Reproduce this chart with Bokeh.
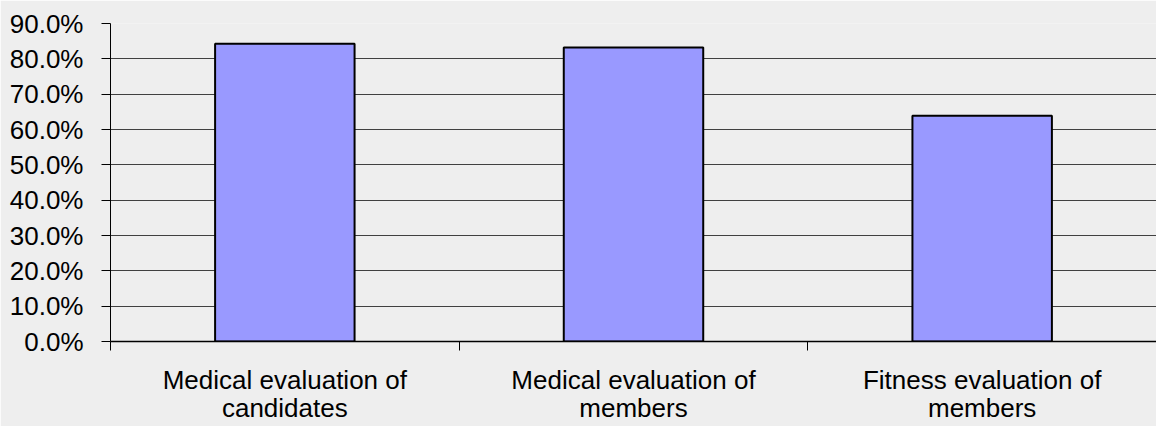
from bokeh.plotting import figure
from bokeh.models import Range1d, FixedTicker, NumeralTickFormatter, ColumnDataSource
from bokeh.embed import file_html
from bokeh.resources import INLINE

categories = ["Medical evaluation of\ncandidates", "Medical evaluation of\nmembers", "Fitness evaluation of\nmembers"]
values = [0.843, 0.832, 0.639]
y_ticks = [0.0, 0.1, 0.2, 0.3, 0.4, 0.5, 0.6, 0.7, 0.8, 0.9]

xs = [i + 0.5 for i in range(len(categories))]
src = ColumnDataSource(dict(x=xs, top=values))

p = figure(width=1156, height=426, output_backend="svg", toolbar_location=None,
           x_range=Range1d(0, len(categories)), y_range=Range1d(0, 0.9),
           min_border_left=110, min_border_right=0, min_border_top=23, min_border_bottom=84,
           background_fill_color="#EEEEEE", border_fill_color="#EEEEEE")
p.outline_line_color = None

p.vbar(x="x", top="top", bottom=0, width=0.4, source=src,
       fill_color="#9999FF", line_color="black", line_width=2)

# y axis
p.yaxis.ticker = FixedTicker(ticks=y_ticks)
p.yaxis.formatter = NumeralTickFormatter(format="0.0%")
p.yaxis.major_label_text_font = "Liberation Sans"
p.yaxis.major_label_text_font_size = "26px"
p.yaxis.major_label_text_color = "black"
p.yaxis.major_label_standoff = 18
p.yaxis.major_tick_out = 9
p.yaxis.major_tick_in = 0
p.yaxis.minor_tick_out = 0
p.yaxis.minor_tick_in = 0
p.yaxis.axis_line_color = "black"
p.yaxis.major_tick_line_color = "black"

# x axis: labels at centres, ticks at category boundaries
p.xaxis.ticker = FixedTicker(ticks=xs, minor_ticks=list(range(len(categories) + 1)))
p.xaxis.major_label_overrides = {x: c for x, c in zip(xs, categories)}
p.xaxis.major_label_text_font = "Liberation Sans"
p.xaxis.major_label_text_font_size = "26px"
p.xaxis.major_label_text_line_height = 0.95
p.xaxis.major_label_text_color = "black"
p.xaxis.major_label_standoff = 14
p.xaxis.major_tick_out = 0
p.xaxis.major_tick_in = 0
p.xaxis.minor_tick_out = 9
p.xaxis.minor_tick_in = 0
p.xaxis.minor_tick_line_color = "black"
p.xaxis.axis_line_color = "black"
p.xaxis.axis_line_width = 1.5

p.xgrid.grid_line_color = None
p.ygrid.grid_line_color = "#404040"
p.ygrid.grid_line_width = 1

open("out.html", "w").write(file_html(p, INLINE))
